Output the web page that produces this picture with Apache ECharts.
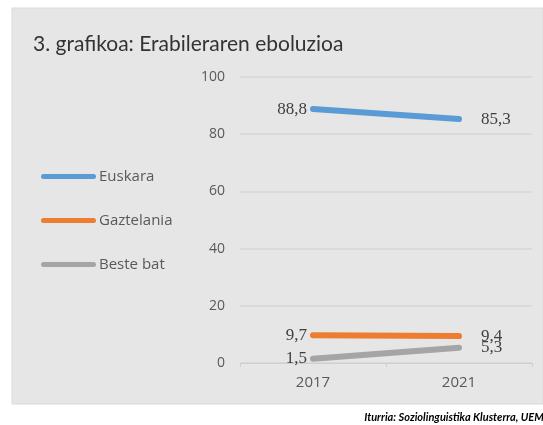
<!DOCTYPE html>
<html>
<head>
<meta charset="utf-8">
<script src="https://cdn.jsdelivr.net/npm/echarts@6/dist/echarts.min.js"></script>
<style>
  html, body { margin: 0; padding: 0; background: #fff; }
  #chart { width: 543px; height: 425px; }
</style>
</head>
<body>
<div id="chart"></div>
<script>
// urteak eta serieak
var years = ["2017", "2021"];
var euskara = [88.8, 85.3];
var gaztelania = [9.7, 9.4];
var besteBat = [1.5, 5.3];
var seriesNames = ["Euskara", "Gaztelania", "Beste bat"];
var yTicks = [0, 20, 40, 60, 80, 100];

function fmt(v) {
  return String(v).replace(".", ",");
}

// lehen puntua ezkerrean, azkena eskuinean
function withLabels(values) {
  return values.map(function (v, i) {
    return {
      value: v,
      label: {
        position: i === 0 ? "left" : "right",
        distance: i === 0 ? 6 : 22
      }
    };
  });
}

var lineIcon = "path://M2.5,0 H52.5 A2.5,2.5 0 0 1 52.5,5 H2.5 A2.5,2.5 0 0 1 2.5,0 Z";

function makeSeries(name, values, color) {
  return {
    name: name,
    type: "line",
    data: withLabels(values),
    symbol: "circle",
    symbolSize: 0.1,
    showSymbol: true,
    lineStyle: { color: color, width: 6, cap: "round" },
    itemStyle: { color: color },
    label: {
      show: true,
      fontFamily: "Liberation Serif",
      fontSize: 17,
      color: "#404040",
      formatter: function (p) { return fmt(p.value); }
    },
    labelLayout: { hideOverlap: false },
    emphasis: { disabled: true }
  };
}

var myChart = echarts.init(document.getElementById("chart"));
myChart.setOption({
  animation: false,
  graphic: [
    {
      type: "rect",
      z: -10,
      shape: { x: 12, y: 8, width: 531, height: 396 },
      style: { fill: "#e6e6e6", stroke: "#dadada", lineWidth: 1 }
    },
    {
      // iturria, eskuinean moztuta
      type: "text",
      x: 551,
      y: 412,
      style: {
        text: "Iturria: Soziolinguistika Klusterra, UEMA",
        font: "italic bold 11px Lato",
        textAlign: "right",
        fill: "#000"
      }
    }
  ],
  title: {
    text: "3. grafikoa: Erabileraren eboluzioa",
    left: 28,
    top: 29,
    textStyle: {
      fontFamily: "Lato",
      fontWeight: "normal",
      fontSize: 21,
      color: "#333333"
    }
  },
  legend: {
    orient: "vertical",
    left: 36,
    top: 164,
    itemWidth: 55,
    itemHeight: 5,
    itemGap: 29,
    icon: lineIcon,
    data: seriesNames,
    textStyle: {
      fontFamily: "Open Sans",
      fontSize: 15,
      color: "#595959",
      padding: [0, 0, 0, -2]
    }
  },
  grid: { left: 240, right: 11, top: 77, bottom: 62 },
  xAxis: {
    type: "category",
    data: years,
    axisLine: { lineStyle: { color: "#cfcfcf", width: 1 } },
    axisTick: { show: true, length: 4, lineStyle: { color: "#cfcfcf" } },
    axisLabel: {
      margin: 12,
      fontFamily: "Open Sans",
      fontSize: 15,
      color: "#595959"
    }
  },
  yAxis: {
    type: "value",
    min: yTicks[0],
    max: yTicks[yTicks.length - 1],
    interval: 20,
    axisLine: { show: false },
    axisTick: { show: false },
    splitLine: { lineStyle: { color: "#d6d6d6", width: 1.5 } },
    axisLabel: {
      margin: 15,
      fontFamily: "Open Sans",
      fontSize: 14,
      color: "#595959"
    }
  },
  series: [
    makeSeries(seriesNames[0], euskara, "#5b9bd5"),
    makeSeries(seriesNames[1], gaztelania, "#ed7d31"),
    makeSeries(seriesNames[2], besteBat, "#a5a5a5")
  ]
});
</script>
</body>
</html>
